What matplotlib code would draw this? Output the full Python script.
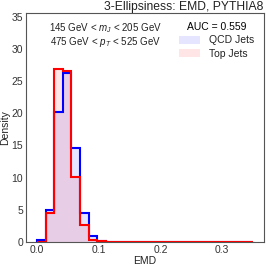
import numpy as np
import matplotlib
matplotlib.use("Agg")
import matplotlib.pyplot as plt
from matplotlib.patches import Patch

# bin edges: 25 bins over 0 - 0.35
bin_edges = np.linspace(0, 0.35, 26)
qcd_density = [0.3, 5.0, 20.2, 26.2, 14.6, 4.5, 0.9, 0.2, 0.05, 0, 0, 0, 0,
               0, 0, 0, 0, 0, 0, 0, 0, 0, 0, 0, 0]
top_density = [0.0, 4.5, 26.8, 26.6, 10.1, 2.7, 0.3, 0.1, 0.05, 0.03, 0.02, 0.02, 0.02,
               0.02, 0.02, 0.02, 0.02, 0.02, 0.02, 0.02, 0.02, 0.02, 0.02, 0.02, 0.02]
auc = 0.559
cut_lines = ["145 GeV < $m_J$ < 205 GeV", "475 GeV < $p_T$ < 525 GeV"]

plt.rcParams['font.family'] = ['Liberation Sans', 'DejaVu Sans']
plt.rcParams['mathtext.fontset'] = 'custom'
plt.rcParams['mathtext.it'] = 'Liberation Sans:italic'
plt.rcParams['mathtext.rm'] = 'Liberation Sans'

fig = plt.figure(figsize=(2.66, 2.66), dpi=100)
ax = fig.add_axes([0.098, 0.09, 0.894, 0.86])

centers = bin_edges[:-1]
for vals, c in [(qcd_density, "blue"), (top_density, "red")]:
    ax.hist(centers, bins=bin_edges, weights=vals, histtype="stepfilled",
            color=c, alpha=0.1)
    ax.hist(centers, bins=bin_edges, weights=vals, histtype="step",
            color=c, linewidth=1.5)

ax.set_xlim(-0.0175, 0.3675)
ax.set_ylim(0, 35.5)
ax.set_yticks([0, 5, 10, 15, 20, 25, 30, 35])
ax.set_xticks([0.0, 0.1, 0.2, 0.3])
ax.tick_params(labelsize=7.5, length=0, pad=2, labelcolor="#333333")
for s in ax.spines.values():
    s.set_color("#555555")
    s.set_linewidth(0.8)
ax.set_xlabel("EMD", fontsize=7.5, labelpad=1, color="#222222")
ax.set_ylabel("Density", fontsize=7.5, labelpad=1, color="#222222")

fig.text(0.992, 1 - 10 / 266, "3-Ellipsiness: EMD, PYTHIA8", ha="right", va="baseline",
         fontsize=8.7, color="#222222")

for i, line in enumerate(cut_lines):
    ax.text(0.333, 0.92 - i * 0.058, line, transform=ax.transAxes,
            ha="center", va="baseline", fontsize=7, color="#222222")

handles = [Patch(facecolor="blue", alpha=0.1, edgecolor="none", label="QCD Jets"),
           Patch(facecolor="red", alpha=0.1, edgecolor="none", label="Top Jets")]
leg = ax.legend(handles=handles, title=f"AUC = {auc}", loc="upper right",
                frameon=False, fontsize=7.5, title_fontsize=7.5,
                bbox_to_anchor=(1.0, 1.005), handlelength=2.0, handleheight=0.8,
                handletextpad=0.9, labelspacing=0.35)
for t in leg.get_texts():
    t.set_color("#222222")

fig.savefig("out.png", dpi=100)
